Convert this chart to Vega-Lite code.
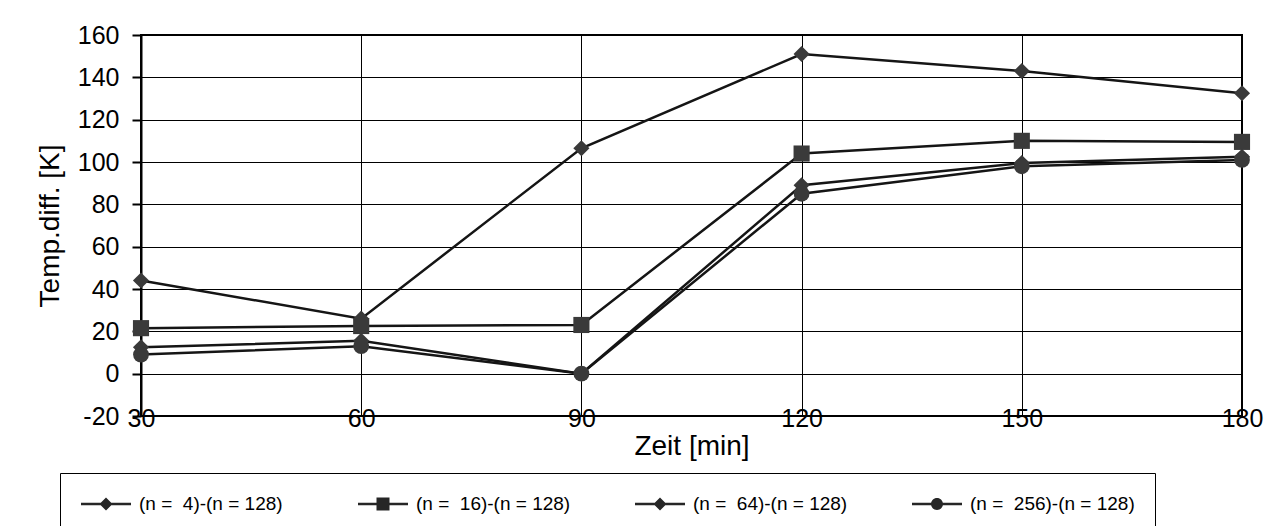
{
  "$schema": "https://vega.github.io/schema/vega-lite/v6.json",
  "autosize": "none",
  "width": 1101,
  "height": 381,
  "padding": {"left": 141, "top": 35, "right": 36, "bottom": 110},
  "background": "white",
  "config": {
    "font": "Liberation Sans",
    "view": {"stroke": "#000", "strokeWidth": 2},
    "axis": {
      "labelColor": "#000",
      "titleColor": "#000",
      "titleFontWeight": "normal",
      "titleFontSize": 28,
      "labelFontSize": 25,
      "gridColor": "#000",
      "gridWidth": 1,
      "gridOpacity": 1,
      "domainColor": "#000",
      "tickColor": "#000",
      "labelFlush": false,
      "labelOverlap": false
    }
  },
  "data": {
    "values": [
      {"t": 30, "v": 44, "s": "(n =\u00a0 4)-(n = 128)", "m": "diamond"},
      {"t": 60, "v": 26, "s": "(n =\u00a0 4)-(n = 128)", "m": "diamond"},
      {"t": 90, "v": 106.5, "s": "(n =\u00a0 4)-(n = 128)", "m": "diamond"},
      {"t": 120, "v": 151, "s": "(n =\u00a0 4)-(n = 128)", "m": "diamond"},
      {"t": 150, "v": 143, "s": "(n =\u00a0 4)-(n = 128)", "m": "diamond"},
      {"t": 180, "v": 132.5, "s": "(n =\u00a0 4)-(n = 128)", "m": "diamond"},
      {"t": 30, "v": 21.5, "s": "(n =\u00a0 16)-(n = 128)", "m": "square"},
      {"t": 60, "v": 22.5, "s": "(n =\u00a0 16)-(n = 128)", "m": "square"},
      {"t": 90, "v": 23, "s": "(n =\u00a0 16)-(n = 128)", "m": "square"},
      {"t": 120, "v": 104, "s": "(n =\u00a0 16)-(n = 128)", "m": "square"},
      {"t": 150, "v": 110, "s": "(n =\u00a0 16)-(n = 128)", "m": "square"},
      {"t": 180, "v": 109.5, "s": "(n =\u00a0 16)-(n = 128)", "m": "square"},
      {"t": 30, "v": 12.5, "s": "(n =\u00a0 64)-(n = 128)", "m": "diamond"},
      {"t": 60, "v": 15.5, "s": "(n =\u00a0 64)-(n = 128)", "m": "diamond"},
      {"t": 90, "v": 0, "s": "(n =\u00a0 64)-(n = 128)", "m": "diamond"},
      {"t": 120, "v": 89, "s": "(n =\u00a0 64)-(n = 128)", "m": "diamond"},
      {"t": 150, "v": 99.5, "s": "(n =\u00a0 64)-(n = 128)", "m": "diamond"},
      {"t": 180, "v": 102.5, "s": "(n =\u00a0 64)-(n = 128)", "m": "diamond"},
      {"t": 30, "v": 9, "s": "(n =\u00a0 256)-(n = 128)", "m": "circle"},
      {"t": 60, "v": 13, "s": "(n =\u00a0 256)-(n = 128)", "m": "circle"},
      {"t": 90, "v": 0, "s": "(n =\u00a0 256)-(n = 128)", "m": "circle"},
      {"t": 120, "v": 85, "s": "(n =\u00a0 256)-(n = 128)", "m": "circle"},
      {"t": 150, "v": 98, "s": "(n =\u00a0 256)-(n = 128)", "m": "circle"},
      {"t": 180, "v": 101, "s": "(n =\u00a0 256)-(n = 128)", "m": "circle"}
    ]
  },
  "encoding": {
    "x": {
      "field": "t",
      "type": "quantitative",
      "scale": {"domain": [30, 180], "nice": false, "zero": false},
      "axis": {
        "title": "Zeit [min]",
        "values": [30, 60, 90, 120, 150, 180],
        "grid": true,
        "domain": false,
        "ticks": false,
        "labelBaseline": "middle",
        "labelPadding": 2,
        "titlePadding": 1
      }
    },
    "y": {
      "field": "v",
      "type": "quantitative",
      "scale": {"domain": [-20, 160], "nice": false, "zero": false},
      "axis": {
        "title": "Temp.diff. [K]",
        "values": [-20, 0, 20, 40, 60, 80, 100, 120, 140, 160],
        "labelExpr": "'' + datum.value",
        "grid": true,
        "domain": true,
        "domainWidth": 2,
        "ticks": true,
        "tickSize": 9,
        "tickWidth": 2,
        "labelPadding": 13,
        "titlePadding": 13
      }
    }
  },
  "layer": [
    {
      "mark": {"type": "rule", "stroke": "#000", "strokeWidth": 2},
      "encoding": {"y": {"datum": 0}}
    },
    {
      "mark": {"type": "line", "stroke": "#151515", "strokeWidth": 2.5},
      "encoding": {"detail": {"field": "s", "type": "nominal"}}
    },
    {
      "transform": [{"filter": "datum.m == 'diamond'"}],
      "mark": {"type": "point", "shape": "diamond", "filled": true, "color": "#3a3a3a", "opacity": 1, "size": 260}
    },
    {
      "transform": [{"filter": "datum.m == 'square'"}],
      "mark": {"type": "point", "shape": "square", "filled": true, "color": "#3a3a3a", "opacity": 1, "size": 260}
    },
    {
      "transform": [{"filter": "datum.m == 'circle'"}],
      "mark": {"type": "point", "shape": "circle", "filled": true, "color": "#3a3a3a", "opacity": 1, "size": 250}
    },
    {
      "mark": {"type": "point", "filled": true, "color": "#262626", "opacity": 0, "size": 400},
      "encoding": {
        "shape": {
          "field": "s",
          "type": "nominal",
          "scale": {
            "domain": ["(n =\u00a0 4)-(n = 128)", "(n =\u00a0 16)-(n = 128)", "(n =\u00a0 64)-(n = 128)", "(n =\u00a0 256)-(n = 128)"],
            "range": [
              "M-1,-0.12H4V0.12H-1ZM1.5,-0.65L2.15,0L1.5,0.65L0.85,0Z",
              "M-1,-0.12H4V0.12H-1ZM0.85,-0.65H2.15V0.65H0.85Z",
              "M-1,-0.12H4V0.12H-1ZM1.5,-0.65L2.15,0L1.5,0.65L0.85,0Z",
              "M-1,-0.12H4V0.12H-1ZM0.9,0A0.6,0.6 0 1,1 2.1,0A0.6,0.6 0 1,1 0.9,0Z"
            ]
          },
          "legend": {
            "title": null,
            "orient": "none",
            "legendX": -81,
            "legendY": 438,
            "direction": "horizontal",
            "columns": 4,
            "gridAlign": "all",
            "columnPadding": 51,
            "padding": 20,
            "strokeColor": "#000",
            "fillColor": "white",
            "labelFontSize": 19,
            "labelColor": "#000",
            "labelOffset": 37,
            "labelLimit": 400,
            "symbolSize": 400,
            "encode": {
              "symbols": {
                "update": {
                  "fill": {"value": "#262626"},
                  "opacity": {"value": 1},
                  "fillOpacity": {"value": 1}
                }
              }
            }
          }
        }
      }
    }
  ]
}
